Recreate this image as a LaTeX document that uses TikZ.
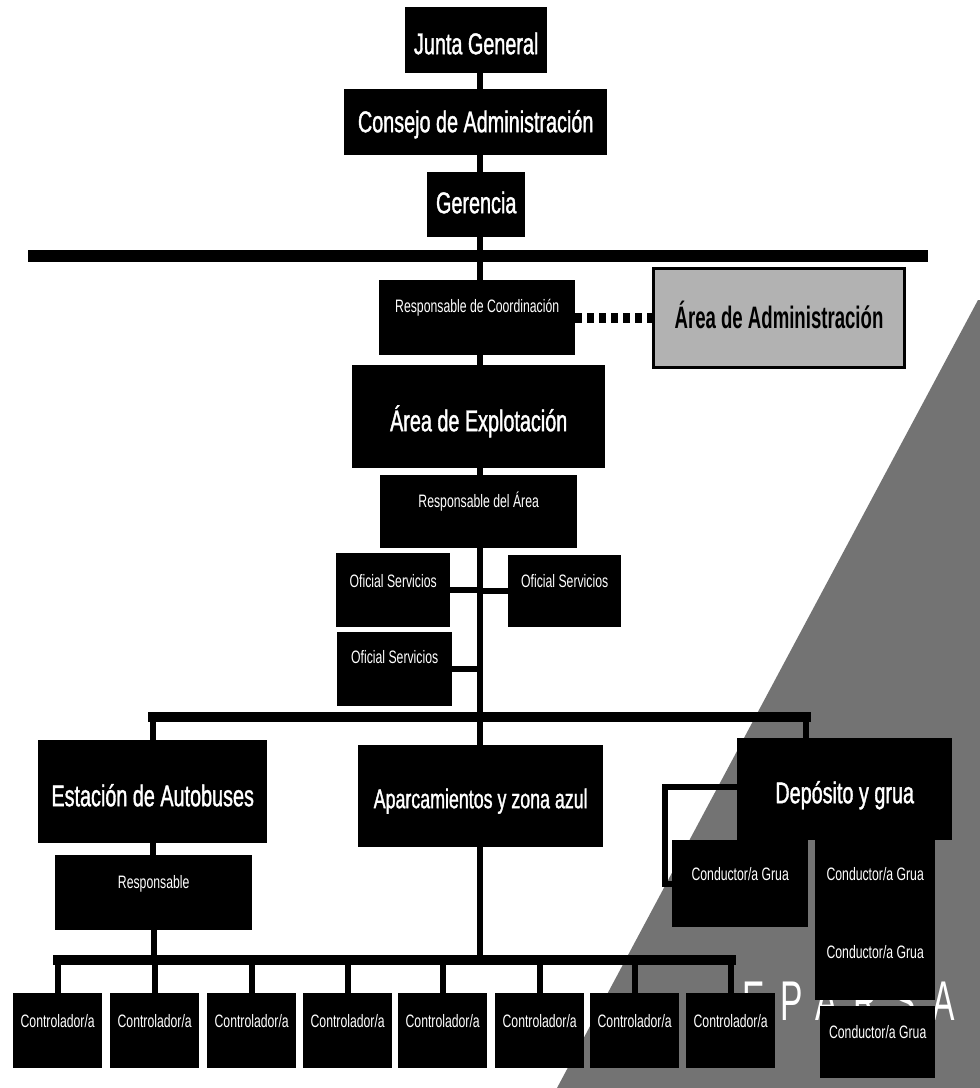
\documentclass[tikz,border=0pt]{standalone}
\usepackage{fontspec}
\newfontfamily\narrowfont[FakeStretch=0.68]{Liberation Sans}
\newfontfamily\narrowheavyfont[FakeStretch=0.66,FakeBold=1.2]{Liberation Sans}
\newfontfamily\narrowboldfont[FakeStretch=0.6]{Liberation Sans}
\newfontfamily\logofont[FakeStretch=0.6,LetterSpace=28]{Liberation Sans}
\tikzset{
  box/.style={fill=black, text=white, inner sep=0pt, anchor=north west},
  bigtxt/.style={font=\narrowheavyfont\fontsize{30}{30}\selectfont},
  midtxt/.style={font=\narrowheavyfont\fontsize{27}{27}\selectfont},
  smalltxt/.style={font=\narrowfont\fontsize{18}{18}\selectfont},
  conn/.style={line width=6pt},
  bar/.style={line width=10pt, line cap=rect},
  dotline/.style={line width=10pt, dash pattern=on 7pt off 5pt},
}
\begin{document}
\begin{tikzpicture}[x=1pt,y=-1pt]
\useasboundingbox (0,0) rectangle (980,1088);
\fill[white] (0,0) rectangle (980,1088);
% grey triangle in the background
\fill[black!55] (978,300) -- (557,1088) -- (980,1088) -- (980,300) -- cycle;
% logo letters behind the boxes
\node[text=white, font=\logofont\fontsize{56}{56}\selectfont, anchor=base west, inner sep=0pt] (logo) at (742,1020) {EPARSA};

% boxes
\node[box,bigtxt,minimum width=142pt,text height=47pt,text depth=19pt] (jg) at (405,7) {Junta General};
\node[box,bigtxt,minimum width=263pt,text height=43pt,text depth=23pt] (cda) at (344,89) {Consejo de Administración};
\node[box,bigtxt,minimum width=98pt,text height=41pt,text depth=24pt] (ger) at (427,172) {Gerencia};
\node[box,smalltxt,minimum width=196pt,text height=32pt,text depth=43pt] (rc) at (379,280) {Responsable de Coordinación};
\node[box,fill=black!30,draw=black,line width=3pt,text=black,font=\narrowboldfont\bfseries\fontsize{31}{31}\selectfont,minimum width=251pt,text height=60pt,text depth=39pt] (aa) at (652,267) {Área de Administración};
\node[box,bigtxt,minimum width=253pt,text height=66pt,text depth=37pt] (ae) at (352,365) {Área de Explotación};
\node[box,smalltxt,minimum width=197pt,text height=32pt,text depth=41pt] (ra) at (380,475) {Responsable del Área};
\node[box,smalltxt,minimum width=114pt,text height=34pt,text depth=40pt] (os1) at (336,553) {Oficial Servicios};
\node[box,smalltxt,minimum width=113pt,text height=32pt,text depth=40pt] (os2) at (508,555) {Oficial Servicios};
\node[box,smalltxt,minimum width=115pt,text height=31pt,text depth=43pt] (os3) at (337,632) {Oficial Servicios};
\node[box,bigtxt,minimum width=229pt,text height=66pt,text depth=37pt] (eda) at (38,740) {Estación de Autobuses};
\node[box,smalltxt,minimum width=197pt,text height=33pt,text depth=42pt] (res) at (55,855) {Responsable};
\node[box,midtxt,minimum width=245pt,text height=63pt,text depth=39pt] (apz) at (358,745) {Aparcamientos y zona azul};
\node[box,bigtxt,minimum width=215pt,text height=65pt,text depth=37pt] (dep) at (737,738) {Depósito y grua};
\node[box,smalltxt,minimum width=136pt,text height=40pt,text depth=47pt] (cg1) at (672,840) {Conductor/a Grua};
\node[box,smalltxt,minimum width=120pt,text height=40pt,text depth=45pt] (cg2) at (815,840) {Conductor/a Grua};
\node[box,smalltxt,minimum width=120pt,text height=33pt,text depth=42pt] (cg3) at (815,925) {Conductor/a Grua};
\node[box,smalltxt,minimum width=115pt,text height=32pt,text depth=40pt] (cg4) at (820,1006) {Conductor/a Grua};
\foreach \i/\x in {1/13,2/110,3/207,4/303,5/398,6/495,7/590,8/686}
  \node[box,smalltxt,minimum width=89pt,text height=34pt,text depth=41pt] (c\i) at (\x,993) {Controlador/a};

% helper coordinates
\coordinate (tx) at (480,0);
\coordinate (tb1) at (28,256);
\coordinate (tb2) at (928,256);
\coordinate (b2) at (0,717);
\coordinate (dj) at (806,0);
\coordinate (bb) at (0,960);
\coordinate (bk) at (665,787);

% top horizontal bar
\draw[line width=12pt] (tb1) -- (tb2);
% trunk
\draw[conn] (jg.south -| tx) -- (cda.north -| tx);
\draw[conn] (cda.south -| tx) -- (ger.north -| tx);
\draw[conn] (ger.south -| tx) -- (rc.north -| tx);
\draw[conn] (rc.south -| tx) -- (ae.north -| tx);
\draw[conn] (ae.south -| tx) -- (ra.north -| tx);
\draw[conn] (ra.south -| tx) -- (apz.north -| tx);
\draw[conn] (apz.south -| tx) -- (tx |- bb);
% dotted link
\draw[dotline] (rc.east) -- (rc.east -| aa.west);
% oficiales
\draw[conn] (os1.east) -- (os1.east -| tx);
\draw[conn] (os2.west) -- (os2.west -| tx);
\draw[conn] (os3.east) -- (os3.east -| tx);
% second bar
\draw[bar] (eda.north |- b2) -- (b2 -| dj);
\draw[conn] (eda.north |- b2) -- (eda.north);
\draw[conn] (b2 -| dj) -- (dep.north -| dj);
% estacion branch
\draw[conn] (eda.south) -- (eda.south |- res.north);
\draw[conn] (res.south) -- (res.south |- bb);
% bottom bar
\draw[bar] (c1.north |- bb) -- (c8.north |- bb);
\foreach \i in {1,...,8} \draw[conn] (c\i.north |- bb) -- (c\i.north);
% deposito bracket
\draw[conn] (bk -| dep.west) -- (bk) |- (cg1.west);
\end{tikzpicture}
\end{document}
